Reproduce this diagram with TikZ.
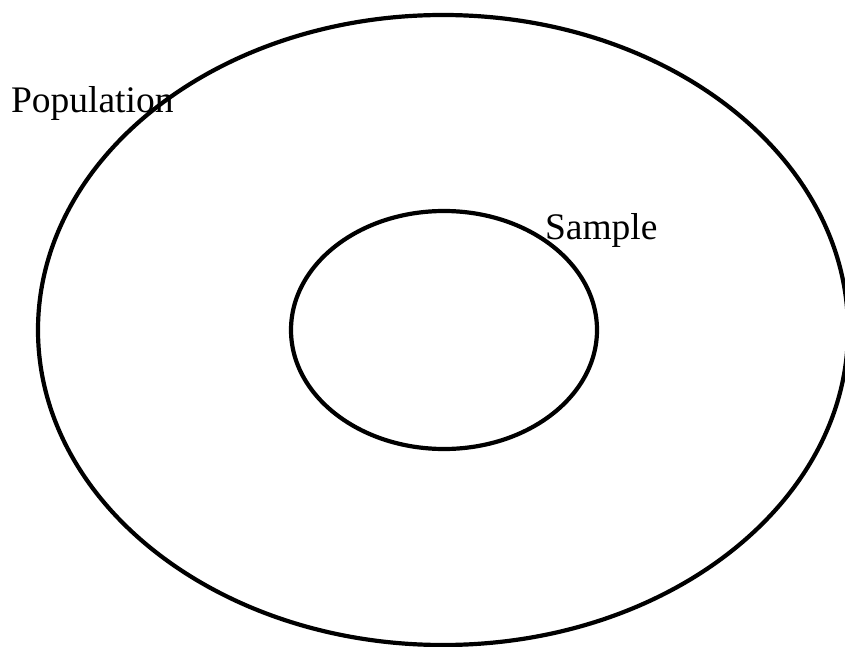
\documentclass[tikz,border=0pt]{standalone}
\usepackage{fontspec}
\setmainfont{Liberation Serif}
\usetikzlibrary{shapes.geometric}
\begin{document}
\begin{tikzpicture}[x=1pt,y=1pt,
  ring/.style={draw=black,line width=4.2pt,ellipse,inner sep=0pt},
  lbl/.style={inner sep=0pt,outer sep=0pt,anchor=base west,font=\fontsize{37.5}{44}\selectfont}]
\useasboundingbox (0,0) rectangle (845,646);
\clip (0,0) rectangle (845,646);
\fill[white] (0,0) rectangle (845,646);
\node[ring,minimum width=810pt,minimum height=630pt] (population) at (443,316) {};
\node[ring,minimum width=306pt,minimum height=238pt] (sample) at (444,316) {};
\node[lbl] (poplabel) at (11,533) {Population};
\node[lbl] (samplelabel) at (545,406) {Sample};
\end{tikzpicture}
\end{document}
